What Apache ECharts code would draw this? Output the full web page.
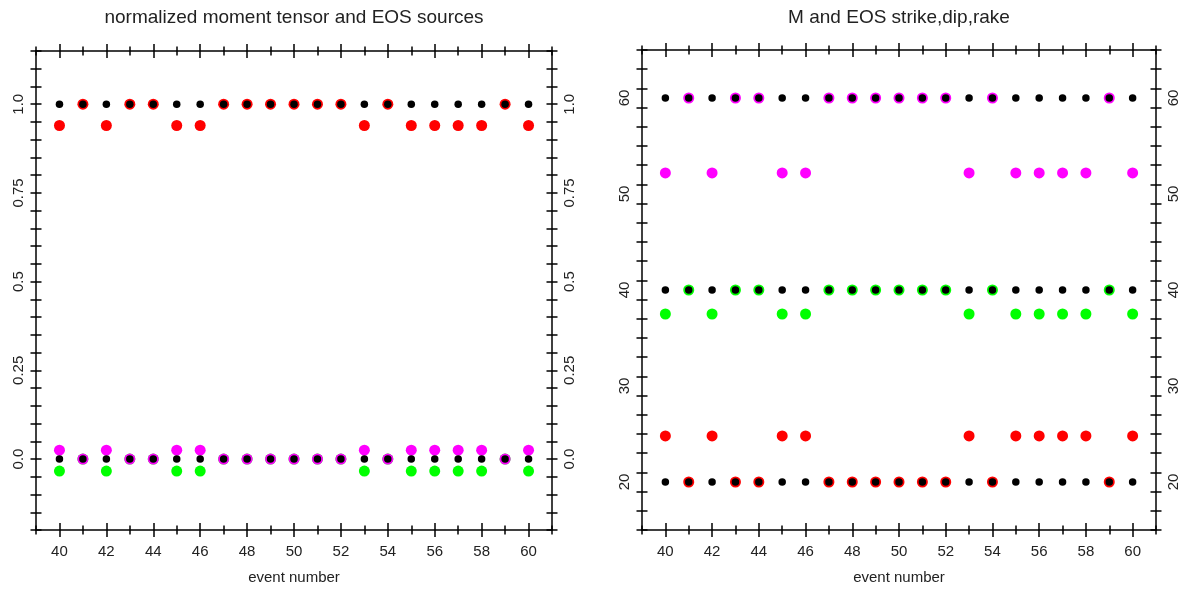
<!DOCTYPE html>
<html>
<head>
<meta charset="utf-8">
<script src="https://cdn.jsdelivr.net/npm/echarts@6.0.0/dist/echarts.min.js"></script>
<style>
  html, body { margin: 0; padding: 0; background: #fff; }
  #main { width: 1185px; height: 590px; }
</style>
</head>
<body>
<div id="main"></div>
<script>
// 事件编号
var events = [40, 41, 42, 43, 44, 45, 46, 47, 48, 49, 50, 51, 52, 53, 54, 55, 56, 57, 58, 59, 60];

// 左图: normalized moment tensor (黑点) 和 EOS (彩色)
var mtHigh = [1, 1, 1, 1, 1, 1, 1, 1, 1, 1, 1, 1, 1, 1, 1, 1, 1, 1, 1, 1, 1];
var mtLow = [0, 0, 0, 0, 0, 0, 0, 0, 0, 0, 0, 0, 0, 0, 0, 0, 0, 0, 0, 0, 0];
var eosRed = [0.94, 1, 0.94, 1, 1, 0.94, 0.94, 1, 1, 1, 1, 1, 1, 0.94, 1, 0.94, 0.94, 0.94, 0.94, 1, 0.94];
var eosMagenta = [0.025, 0, 0.025, 0, 0, 0.025, 0.025, 0, 0, 0, 0, 0, 0, 0.025, 0, 0.025, 0.025, 0.025, 0.025, 0, 0.025];
var eosGreen = [-0.034, 0, -0.034, 0, 0, -0.034, -0.034, 0, 0, 0, 0, 0, 0, -0.034, 0, -0.034, -0.034, -0.034, -0.034, 0, -0.034];

// 右图: M strike,dip,rake (黑点) 和 EOS (彩色)
var mStrike = [60, 60, 60, 60, 60, 60, 60, 60, 60, 60, 60, 60, 60, 60, 60, 60, 60, 60, 60, 60, 60];
var mDip = [40, 40, 40, 40, 40, 40, 40, 40, 40, 40, 40, 40, 40, 40, 40, 40, 40, 40, 40, 40, 40];
var mRake = [20, 20, 20, 20, 20, 20, 20, 20, 20, 20, 20, 20, 20, 20, 20, 20, 20, 20, 20, 20, 20];
var eosStrike = [52.2, 60, 52.2, 60, 60, 52.2, 52.2, 60, 60, 60, 60, 60, 60, 52.2, 60, 52.2, 52.2, 52.2, 52.2, 60, 52.2];
var eosDip = [37.5, 40, 37.5, 40, 40, 37.5, 37.5, 40, 40, 40, 40, 40, 40, 37.5, 40, 37.5, 37.5, 37.5, 37.5, 40, 37.5];
var eosRake = [24.8, 20, 24.8, 20, 20, 24.8, 24.8, 20, 20, 20, 20, 20, 20, 24.8, 20, 24.8, 24.8, 24.8, 24.8, 20, 24.8];

// 刻度标签
var xTickLabels = [40, 42, 44, 46, 48, 50, 52, 54, 56, 58, 60];
var leftTickLabels = [0, 0.25, 0.5, 0.75, 1];
var leftTickText = ['0.0', '0.25', '0.5', '0.75', '1.0'];
var rightTickLabels = [20, 30, 40, 50, 60];

var font = 'Liberation Sans, Arial, sans-serif';
var axisColor = '#000';
var textColor = '#222';

(function () {
  var myChart = echarts.init(document.getElementById('main'));

  // 刻度线: 一组朝外, 一组朝内, 形成穿过坐标轴的短线
  function xAxes(grid, pos, withLabels) {
    var list = [];
    [false, true].forEach(function (inside) {
      var main = !inside && withLabels;
      list.push({
        gridIndex: grid, type: 'value', position: pos,
        min: 39, max: 61, interval: 1,
        axisLine: { show: !inside, onZero: false, lineStyle: { color: axisColor, width: 1.5 } },
        axisTick: { show: true, inside: inside, length: 4.5, lineStyle: { color: axisColor, width: 1.5 } },
        axisLabel: {
          show: main, customValues: xTickLabels, margin: 14,
          fontSize: 15, color: textColor, fontFamily: font
        },
        splitLine: { show: false },
        name: main ? 'event number' : '',
        nameLocation: 'middle', nameGap: 40,
        nameTextStyle: { fontSize: 15, color: textColor, fontFamily: font }
      });
      // 偶数位置的长刻度
      list.push({
        gridIndex: grid, type: 'value', position: pos,
        min: 39, max: 61, interval: 1,
        axisLine: { show: false, onZero: false },
        axisTick: { show: true, inside: inside, length: 7, customValues: xTickLabels, lineStyle: { color: axisColor, width: 1.5 } },
        axisLabel: { show: false },
        splitLine: { show: false }
      });
    });
    return list;
  }

  function yAxes(grid, pos, min, max, interval, labelVals, formatter) {
    var list = [];
    [false, true].forEach(function (inside) {
      list.push({
        gridIndex: grid, type: 'value', position: pos,
        min: min, max: max, interval: interval,
        axisLine: { show: !inside, onZero: false, lineStyle: { color: axisColor, width: 1.5 } },
        axisTick: { show: true, inside: inside, length: 5.5, lineStyle: { color: axisColor, width: 1.5 } },
        axisLabel: {
          show: !inside, customValues: labelVals, rotate: 90, margin: 10,
          fontSize: 15, color: textColor, fontFamily: font,
          formatter: formatter
        },
        splitLine: { show: false }
      });
    });
    return list;
  }

  function leftFmt(v) {
    for (var i = 0; i < leftTickLabels.length; i++) {
      if (Math.abs(leftTickLabels[i] - v) < 1e-6) return leftTickText[i];
    }
    return '';
  }

  var xAxisList = []
    .concat(xAxes(0, 'bottom', true))   // 0..3
    .concat(xAxes(0, 'top', false))     // 4..7
    .concat(xAxes(1, 'bottom', true))   // 8..11
    .concat(xAxes(1, 'top', false));    // 12..15

  var yAxisList = []
    .concat(yAxes(0, 'left', -0.2, 1.15, 0.05, leftTickLabels, leftFmt))  // 0,1
    .concat(yAxes(0, 'right', -0.2, 1.15, 0.05, leftTickLabels, leftFmt)) // 2,3
    .concat(yAxes(1, 'left', 15, 65, 2, rightTickLabels, '{value}'))      // 4,5
    .concat(yAxes(1, 'right', 15, 65, 2, rightTickLabels, '{value}'));    // 6,7

  function pts(arr) {
    return events.map(function (e, i) { return [e, arr[i]]; });
  }

  function dots(name, arr, color, size, xi, yi) {
    return {
      name: name, type: 'scatter',
      xAxisIndex: xi, yAxisIndex: yi,
      symbol: 'circle', symbolSize: size,
      itemStyle: { color: color, opacity: 1 },
      silent: true,
      data: pts(arr)
    };
  }

  var option = {
    animation: false,
    title: [
      {
        text: 'normalized moment tensor and EOS sources',
        left: 289, top: 3, textAlign: 'center',
        textStyle: { fontSize: 19, fontWeight: 'normal', color: textColor, fontFamily: font }
      },
      {
        text: 'M and EOS strike,dip,rake',
        left: 894, top: 3, textAlign: 'center',
        textStyle: { fontSize: 19, fontWeight: 'normal', color: textColor, fontFamily: font }
      }
    ],
    grid: [
      { left: 36, top: 51, width: 516, height: 479 },
      { left: 642, top: 50, width: 514, height: 480 }
    ],
    xAxis: xAxisList,
    yAxis: yAxisList,
    series: [
      dots('EOS green', eosGreen, '#00ff00', 11, 0, 0),
      dots('EOS magenta', eosMagenta, '#ff00ff', 11, 0, 0),
      dots('EOS red', eosRed, '#ff0000', 11, 0, 0),
      dots('MT 1', mtHigh, '#000', 7.5, 0, 0),
      dots('MT 0', mtLow, '#000', 7.5, 0, 0),

      dots('EOS strike', eosStrike, '#ff00ff', 11, 8, 4),
      dots('EOS dip', eosDip, '#00ff00', 11, 8, 4),
      dots('EOS rake', eosRake, '#ff0000', 11, 8, 4),
      dots('strike', mStrike, '#000', 7.5, 8, 4),
      dots('dip', mDip, '#000', 7.5, 8, 4),
      dots('rake', mRake, '#000', 7.5, 8, 4)
    ]
  };
  myChart.setOption(option);
  window.addEventListener('resize', function () {
    myChart.resize();
  });
})();
</script>
</body>
</html>
